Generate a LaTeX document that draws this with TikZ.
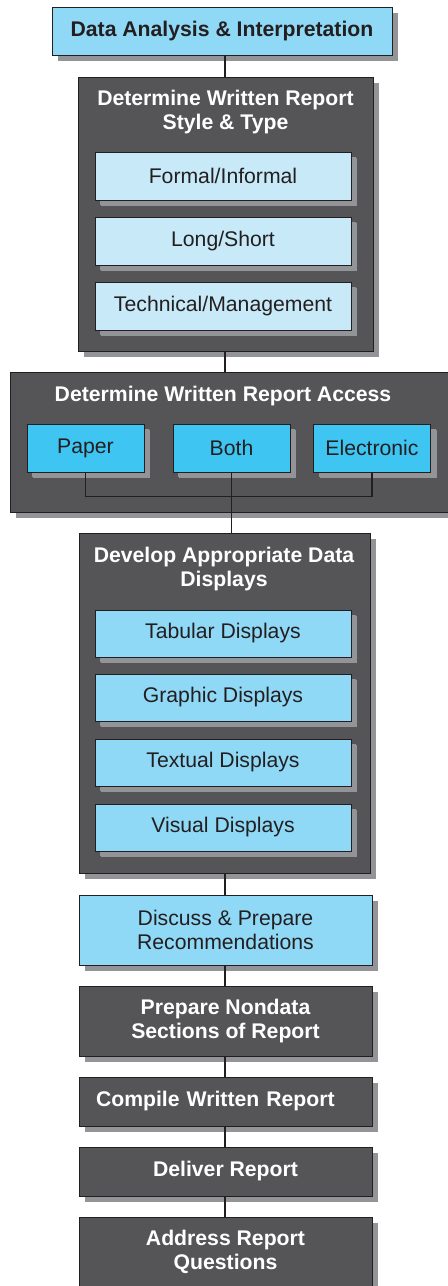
\documentclass[tikz,border=0pt]{standalone}
\usepackage{fontspec}
\setmainfont{Liberation Sans}
\usepackage{tikz}
\usetikzlibrary{positioning,shadows,backgrounds,calc}
\definecolor{stagecolor}{RGB}{85,85,88}
\definecolor{lightcolor}{RGB}{143,216,246}
\definecolor{palecolor}{RGB}{200,234,248}
\definecolor{cyancolor}{RGB}{63,197,242}
\definecolor{shadecolor}{RGB}{146,148,151}
\definecolor{inkcolor}{RGB}{35,31,32}

\begin{document}
\begin{tikzpicture}[
  box/.style    = {rectangle, draw=inkcolor, line width=0.5pt, align=center,
                   drop shadow={shadow xshift=3pt, shadow yshift=-3pt,
                                fill=shadecolor, opacity=1}},
  stage/.style  = {box, fill=stagecolor, minimum width=146.5pt,
                   font=\fontsize{10.6}{12}\selectfont\bfseries\color{white}},
  lightbox/.style = {box, fill=lightcolor, minimum width=146.5pt,
                   font=\fontsize{10.6}{12}\selectfont\color{inkcolor}},
  title/.style  = {align=center, font=\fontsize{10.6}{12}\selectfont\bfseries\color{white}},
  item/.style   = {box, minimum width=128pt, minimum height=24pt,
                   font=\fontsize{10.6}{12}\selectfont\color{inkcolor},
                   drop shadow={shadow xshift=2.5pt, shadow yshift=-2.5pt,
                                fill=shadecolor, opacity=1}},
  link/.style   = {draw=inkcolor, line width=0.7pt}
]
\useasboundingbox (0,0) rectangle (224pt,-643pt);

% first step
\node[lightbox, minimum width=170pt, minimum height=24pt,
      font=\fontsize{10.6}{12}\selectfont\bfseries\color{inkcolor}]
      (d-ana) at (111pt,-15.5pt) {Data Analysis \& Interpretation};

% report style and type
\node[stage, minimum width=147.5pt, minimum height=137pt] (s-type) at (112.75pt,-107pt) {};
\node[title] (s-title) at (112.75pt,-56pt) {Determine Written Report\\Style \& Type};
\node[item, fill=palecolor] (s-form) at (111.5pt,-88pt)    {Formal/Informal};
\node[item, fill=palecolor] (s-len)  at (111.5pt,-120.5pt) {Long/Short};
\node[item, fill=palecolor] (s-tech) at (111.5pt,-153pt)   {Technical/Management};

% report access
\node[stage, minimum width=224pt, minimum height=70pt] (a-acc) at (117pt,-221pt) {};
\node[title] (a-title) at (111.5pt,-198pt) {Determine Written Report Access};
\node[item, fill=cyancolor, minimum width=58.5pt] (a-pap)  at (42.75pt,-224pt)  {Paper};
\node[item, fill=cyancolor, minimum width=58.5pt] (a-both) at (115.75pt,-224pt) {Both};
\node[item, fill=cyancolor, minimum width=58.5pt] (a-elec) at (186pt,-224pt)    {Electronic};

% data displays
\node[stage, minimum width=145.5pt, minimum height=170pt] (v-dev) at (112.25pt,-351.5pt) {};
\node[title] (v-title) at (112pt,-284.5pt) {Develop Appropriate Data\\Displays};
\node[item, fill=lightcolor, minimum height=23.5pt] (v-tab) at (111.5pt,-316.75pt) {Tabular Displays};
\node[item, fill=lightcolor, minimum height=23.5pt] (v-gra) at (111.5pt,-348.75pt) {Graphic Displays};
\node[item, fill=lightcolor, minimum height=23.5pt] (v-txt) at (111.5pt,-381.25pt) {Textual Displays};
\node[item, fill=lightcolor, minimum height=23.5pt] (v-vis) at (111.5pt,-413.75pt) {Visual Displays};

% remaining steps
\node[lightbox, minimum height=35pt] (r-disc) at (112.75pt,-465pt)
      {Discuss \& Prepare\\Recommendations};
\node[stage, minimum height=35pt] (r-nond) at (112.75pt,-510.5pt)
      {Prepare Nondata\\Sections of Report};
\node[stage, minimum height=24.5pt, text width=129.5pt, inner xsep=8.5pt, align=left]
      (r-comp) at (112.75pt,-550.75pt) {Compile Written Report};
\node[stage, minimum height=24.5pt] (r-deliv) at (112.75pt,-585.75pt) {Deliver Report};
\node[stage, minimum height=35pt] (r-addr) at (112.75pt,-626pt)
      {Address Report\\Questions};

\foreach \top/\bot in {d-ana/s-type, s-type/a-acc, v-dev/r-disc,
                        r-disc/r-nond, r-nond/r-comp, r-comp/r-deliv,
                        r-deliv/r-addr}{
  \draw[link] (\top.south -| 112.5pt,0) -- (\bot.north -| 112.5pt,0);
}
\draw[link] (a-pap.south) -- ++(0,-12pt) -| (a-elec.south);
\draw[link] (a-both.south) -- (a-both.south |- v-dev.north);
\end{tikzpicture}
\end{document}
